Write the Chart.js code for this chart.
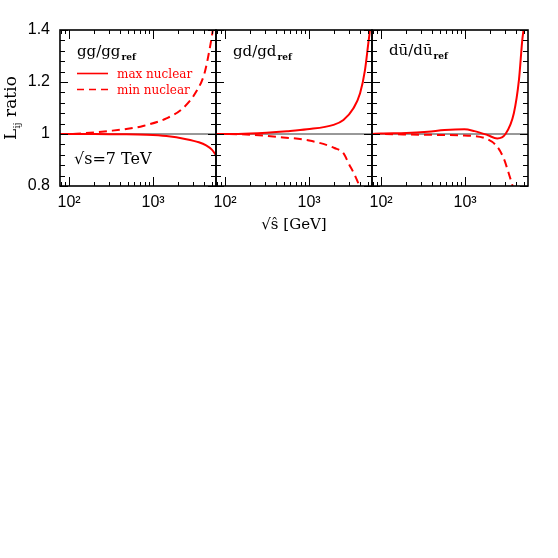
<!DOCTYPE html>
<html>
<head>
<meta charset="utf-8">
<script src="https://cdn.jsdelivr.net/npm/chart.js@4.4.0/dist/chart.umd.min.js"></script>
<style>
  html, body { margin: 0; padding: 0; background: #fff; }
  #wrap { position: relative; width: 558px; height: 558px; }
  #wrap canvas { position: absolute; left: 0; top: 0; }
</style>
</head>
<body>
<div id="wrap">
  <canvas id="gg" width="558" height="558"></canvas>
  <canvas id="gd" width="558" height="558"></canvas>
  <canvas id="du" width="558" height="558"></canvas>
</div>
<script>
// ---------------------------------------------------------
// Axis ranges and ticks (sqrt(s-hat) in GeV, luminosity ratio)
// ---------------------------------------------------------
const xMin = 78, xMax = 5600;
const yMin = 0.8, yMax = 1.4;

const xMajor = [100, 1000];
const xMajorLabels = ["10\u00B2", "10\u00B3"];
const xMinor = [80, 90, 200, 300, 400, 500, 600, 700, 800, 900, 2000, 3000, 4000, 5000];

const yMajor = [0.8, 1.0, 1.2, 1.4];
const yMajorLabels = ["0.8", "1", "1.2", "1.4"];
const yMinor = [0.84, 0.88, 0.92, 0.96, 1.04, 1.08, 1.12, 1.16, 1.24, 1.28, 1.32, 1.36];

// reference line at ratio = 1
const refX = [xMin, xMax];
const refY = [1, 1];

// ---------------------------------------------------------
// gg / gg_ref
// ---------------------------------------------------------
const ggMaxX = [78, 100, 200, 400, 830, 1440, 2480, 3500, 4270, 5000, 5600];
const ggMaxY = [1.0, 1.0, 1.0, 0.999, 0.997, 0.992, 0.980, 0.968, 0.956, 0.940, 0.918];
const ggMinX = [78, 100, 150, 306, 500, 760, 1440, 2260, 3260, 4080, 4680, 5130, 5400];
const ggMinY = [1.0, 1.0, 1.003, 1.012, 1.02, 1.031, 1.06, 1.099, 1.163, 1.233, 1.323, 1.4, 1.46];

// ---------------------------------------------------------
// gd / gd_ref
// ---------------------------------------------------------
const gdMaxX = [78, 100, 200, 546, 946, 1950, 2560, 3370, 4040, 4620, 5060, 5290, 5450];
const gdMaxY = [1.0, 1.0, 1.002, 1.011, 1.018, 1.035, 1.054, 1.099, 1.157, 1.246, 1.349, 1.4, 1.46];
const gdMinX = [78, 100, 200, 490, 1000, 2000, 2560, 2950, 3560, 3930, 4100];
const gdMinY = [1.0, 1.0, 0.997, 0.987, 0.975, 0.946, 0.926, 0.887, 0.836, 0.80, 0.77];

// ---------------------------------------------------------
// d ubar / d ubar_ref
// ---------------------------------------------------------
const duMaxX = [78, 100, 200, 361, 569, 980, 1290, 1840, 2410, 3020, 3800, 4370, 4790, 4950, 5100];
const duMaxY = [1.0, 1.002, 1.004, 1.009, 1.015, 1.018, 1.011, 0.996, 0.983, 1.0, 1.08, 1.208, 1.362, 1.4, 1.45];
const duMinX = [78, 100, 300, 980, 1840, 2410, 2880, 3300, 3640, 3800];
const duMinY = [1.0, 1.0, 0.997, 0.994, 0.98, 0.951, 0.906, 0.849, 0.804, 0.78];

// Text
const legendMax = "max nuclear";
const legendMin = "min nuclear";
const energyText = "\u221As=7 TeV";
const xTitle = "\u221A\u015D [GeV]";

const RED = "#ff0000";
const DASH = [8, 5];

// panel geometry
const panelLeft = [60, 216, 372];
const panelWidth = 156;
const plotTop = 30, plotBottom = 186;
const xAxisHeight = 50;

const pts = (xs, ys) => xs.map((x, i) => ({ x, y: ys[i] }));


// ---------------------------------------------------------
// Frame with inward ticks on all four sides, plus text labels
// ---------------------------------------------------------
const framePlugin = {
  id: "frame",
  afterDraw(chart, args, opts) {
    const { ctx, chartArea: a, scales: { x, y } } = chart;
    ctx.save();

    ctx.strokeStyle = "#000";
    ctx.lineWidth = 1;
    ctx.beginPath();
    x.ticks.forEach(t => {
      const px = Math.round(x.getPixelForValue(t.value)) + 0.5;
      const len = xMajor.includes(t.value) ? 9 : 4;
      ctx.moveTo(px, a.bottom); ctx.lineTo(px, a.bottom - len);
      ctx.moveTo(px, a.top); ctx.lineTo(px, a.top + len);
    });
    y.ticks.forEach(t => {
      const py = Math.round(y.getPixelForValue(t.value)) + 0.5;
      const len = yMajor.some(v => Math.abs(v - t.value) < 1e-6) ? 8 : 5;
      ctx.moveTo(a.left, py); ctx.lineTo(a.left + len, py);
      ctx.moveTo(a.right, py); ctx.lineTo(a.right - len, py);
    });
    ctx.stroke();

    ctx.lineWidth = 1.6;
    ctx.strokeRect(a.left, a.top, a.right - a.left, a.bottom - a.top);

    // panel title with "ref" subscript
    if (opts.title) {
      const t = opts.title;
      ctx.fillStyle = "#000";
      ctx.textBaseline = "alphabetic";
      ctx.textAlign = "left";
      ctx.font = "15px 'DejaVu Serif'";
      ctx.fillText(t.text, t.x, t.y);
      const w = ctx.measureText(t.text).width;
      ctx.font = "bold 9px 'DejaVu Serif'";
      ctx.fillText("ref", t.x + w + 1, t.y + 4);
    }

    // legend and energy label (first panel)
    if (opts.legend) {
      ctx.strokeStyle = RED;
      ctx.lineWidth = 1.6;
      ctx.beginPath();
      ctx.moveTo(77, 73.5); ctx.lineTo(108, 73.5);
      ctx.stroke();
      ctx.setLineDash([7, 5]);
      ctx.beginPath();
      ctx.moveTo(77, 89.5); ctx.lineTo(108, 89.5);
      ctx.stroke();
      ctx.setLineDash([]);
      ctx.fillStyle = RED;
      ctx.font = "12px 'DejaVu Serif'";
      ctx.fillText(legendMax, 117, 77.5);
      ctx.fillText(legendMin, 117, 93.5);

      ctx.fillStyle = "#000";
      ctx.font = "16px 'DejaVu Serif'";
      ctx.fillText(energyText, 74, 164);
    }

    // rotated y title "L_ij ratio"
    if (opts.yTitle) {
      ctx.fillStyle = "#000";
      ctx.translate(16, 108);
      ctx.rotate(-Math.PI / 2);
      ctx.font = "17px 'DejaVu Serif'";
      const wL = ctx.measureText("L").width;
      const wR = ctx.measureText(" ratio").width;
      ctx.font = "10px 'DejaVu Serif'";
      const wS = ctx.measureText("ij").width;
      let cx = -(wL + wS + wR) / 2;
      ctx.font = "17px 'DejaVu Serif'";
      ctx.fillText("L", cx, 0);
      cx += wL;
      ctx.font = "10px 'DejaVu Serif'";
      ctx.fillText("ij", cx, 4);
      cx += wS;
      ctx.font = "17px 'DejaVu Serif'";
      ctx.fillText(" ratio", cx, 0);
    }

    ctx.restore();
  }
};


// ---------------------------------------------------------
// One panel = one chart on its own overlaid canvas
// ---------------------------------------------------------
function makePanel(id, i, maxPts, minPts, extra) {
  const left = panelLeft[i];
  const first = i === 0;
  return new Chart(document.getElementById(id), {
    type: "line",
    data: {
      datasets: [
        { data: maxPts, borderColor: RED, borderWidth: 2, pointRadius: 0, cubicInterpolationMode: "monotone", fill: false },
        { data: minPts, borderColor: RED, borderWidth: 2, borderDash: DASH, pointRadius: 0, cubicInterpolationMode: "monotone", fill: false },
        { data: pts(refX, refY), borderColor: "#333", borderWidth: 1, pointRadius: 0, fill: false }
      ]
    },
    options: {
      responsive: false,
      animation: false,
      events: [],
      layout: {
        padding: {
          left: first ? 0 : left,
          right: 558 - left - panelWidth,
          top: plotTop,
          bottom: 558 - plotBottom - xAxisHeight
        }
      },
      plugins: {
        legend: { display: false },
        tooltip: { enabled: false },
        frame: extra
      },
      scales: {
        x: {
          type: "logarithmic",
          min: xMin, max: xMax,
          afterBuildTicks: s => { s.ticks = xMajor.concat(xMinor).sort((a, b) => a - b).map(v => ({ value: v })); },
          afterFit: s => { s.height = xAxisHeight; },
          grid: { display: false, drawTicks: false },
          border: { display: false },
          ticks: {
            autoSkip: false, maxRotation: 0, padding: 7, color: "#000",
            font: { family: "'Liberation Sans'", size: 16 },
            callback: v => { const k = xMajor.indexOf(v); return k >= 0 ? xMajorLabels[k] : ""; }
          },
          title: {
            display: i === 1, text: xTitle, color: "#000",
            font: { family: "'DejaVu Serif'", size: 15 },
            padding: { top: 0, bottom: 2 }
          }
        },
        y: {
          type: "linear",
          display: first,
          min: yMin, max: yMax,
          afterBuildTicks: s => { s.ticks = yMajor.concat(yMinor).sort((a, b) => a - b).map(v => ({ value: v })); },
          afterFit: s => { s.width = first ? panelLeft[0] : 0; },
          grid: { display: false, drawTicks: false },
          border: { display: false },
          ticks: {
            autoSkip: false, padding: 10, color: "#000",
            font: { family: "'Liberation Sans'", size: 16 },
            callback: v => { const k = yMajor.findIndex(m => Math.abs(m - v) < 1e-6); return k >= 0 ? yMajorLabels[k] : ""; }
          }
        }
      }
    },
    plugins: [framePlugin]
  });
}

makePanel("gg", 0, pts(ggMaxX, ggMaxY), pts(ggMinX, ggMinY),
  { title: { text: "gg/gg", x: 77, y: 56 }, legend: true, yTitle: true });
makePanel("gd", 1, pts(gdMaxX, gdMaxY), pts(gdMinX, gdMinY),
  { title: { text: "gd/gd", x: 233, y: 56 } });
makePanel("du", 2, pts(duMaxX, duMaxY), pts(duMinX, duMinY),
  { title: { text: "d\u016B/d\u016B", x: 389, y: 55 } });
</script>
</body>
</html>
